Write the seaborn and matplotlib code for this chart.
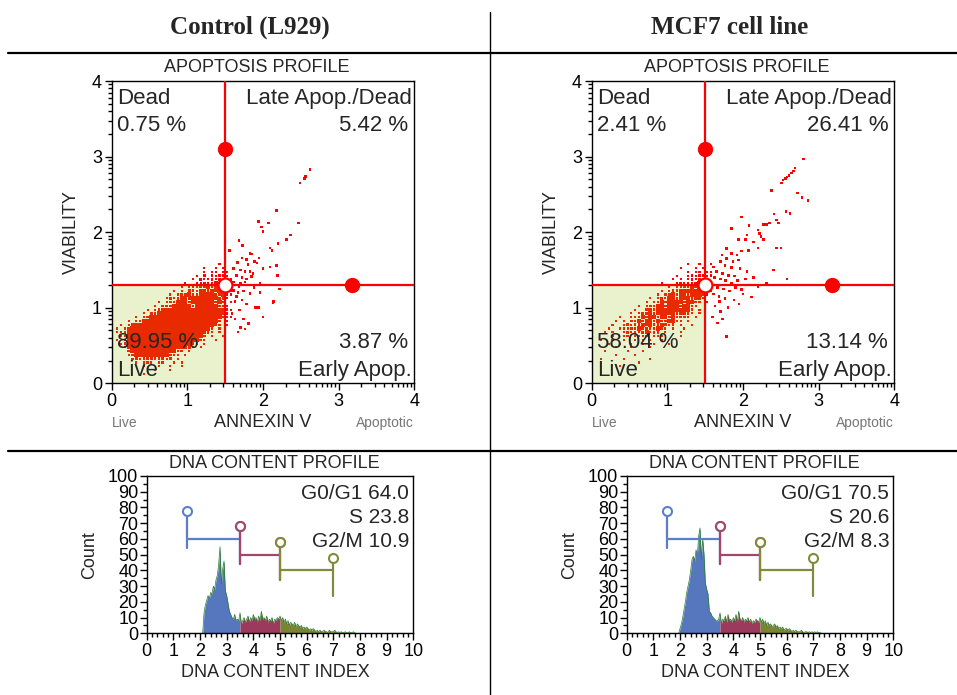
import numpy as np
import pandas as pd
import seaborn as sns
import matplotlib.pyplot as plt
from matplotlib.patches import Rectangle
from matplotlib.lines import Line2D
from matplotlib.ticker import FixedLocator, MultipleLocator

# ---------------- data ----------------
PANEL_TITLES = ['Control (L929)', 'MCF7 cell line']

QUAD_NAMES = ['Dead', 'Late Apop./Dead', 'Live', 'Early Apop.']
CTRL_QUAD_PCT = ['0.75 %', '5.42 %', '89.95 %', '3.87 %']
MCF7_QUAD_PCT = ['2.41 %', '26.41 %', '58.04 %', '13.14 %']

ANNEXIN_GATE = 1.5
VIABILITY_GATE = 1.3
HANDLE_X = [1.5, 3.17]
HANDLE_Y = [3.1, 1.3]

# dense part of the dot plot, one character per 0.05 x 0.05 cell,
# x from 0 to 1.6, y from 1.6 down ('#' solid, '+' some dots, '.' one dot)
CTRL_CLOUD = [
    "                            .   ",
    "                        .  . .  ",
    "                        . +. .+ ",
    "                      . + +.++. ",
    "                     . +..+.++.+",
    "                   .  +.+.+#++ +",
    "                  . .+.++#+#++ +",
    "                . . ++.##+#+#+++",
    "               . .++#++####++#+.",
    "              .+.+##+###+###++. ",
    "            . .++###+######+#+ .",
    "           . +++#####+######++. ",
    "         . .+#################+.",
    "        . ++##################+ ",
    "      . .+###################.+.",
    "    . .+####################+ . ",
    "  . .+#####################+. . ",
    " . .+#####################+ .   ",
    " ..+#####################+. .   ",
    "  .+####################+ .  .  ",
    " . +###################+.  .    ",
    "  .+#################++ .       ",
    "   .+###############+. .        ",
    "    +############++ .           ",
    "    .+#########++. .            ",
    "     .+.++++++.+ .              ",
    "      . .+. .+  . .             ",
    "        .   .  .  .             ",
    "           .   .                ",
    "        .                       ",
]

MCF7_CLOUD = [
    "                         .  .  .",
    "                       .   . +  ",
    "                         . .+ ++",
    "                      .  .+.++.+",
    "                     . . .+.+++ ",
    "                  .   .+.+++#++ ",
    "                    . +.++#+#++ ",
    "                  . .++#+##+#++.",
    "                 . ++#+##+###++ ",
    "               . .+.##+###+#+. ",
    "              . ++#+####+##++ .",
    "            . .++##+###+##+.   ",
    "           .  +#+##+####+#+ .   ",
    "          . .++#+#####+##+. .   ",
    "       .  .++#+##+##+#+++. .    ",
    "      . . ++#+##+#++##+. .      ",
    "     .  .+.++#+#++#+.+ .  .     ",
    "    .  .+.++#++.+#+. .  .       ",
    "   . .  .+.+.+#.++ .   .        ",
    "     .  .+ .+.+ .+.    .        ",
    "  .  .  .  + . .  .             ",
    "    .  .  .  .  .   .           ",
    "      .   .    .                ",
    "   .     .   .                  ",
    "      .    .                    ",
    "  .     .      .                ",
    "            .                   ",
    "       .                        ",
]

# single dots outside the dense part (ANNEXIN V, VIABILITY)
CTRL_SPARSE = [
    (2.62, 2.83), (2.56, 2.74), (2.55, 2.71), (2.49, 2.65), (2.18, 2.29),
    (1.94, 2.14), (1.98, 2.07), (2.07, 2.12), (2.47, 2.12), (2.36, 1.96),
    (2.31, 1.90), (2.00, 2.01), (1.68, 1.89), (1.73, 1.82), (1.56, 1.76),
    (2.20, 1.85), (2.09, 1.79), (2.12, 1.76), (1.83, 1.72), (1.85, 1.71),
    (1.72, 1.66), (1.78, 1.64), (1.89, 1.61), (1.92, 1.59), (2.00, 1.52),
    (2.09, 1.54), (2.18, 1.56), (2.19, 1.43), (1.61, 1.52), (1.70, 1.50),
    (1.76, 1.48), (1.83, 1.48), (1.87, 1.45), (1.65, 1.43), (1.72, 1.40),
    (1.78, 1.38), (1.85, 1.41), (1.61, 1.34), (1.70, 1.32), (1.76, 1.34),
    (1.96, 1.32), (2.05, 1.30), (2.22, 1.25), (1.61, 1.23), (1.67, 1.20),
    (1.74, 1.22), (1.83, 1.19), (1.96, 1.20), (2.14, 1.08), (1.63, 1.08),
    (1.72, 1.10), (1.59, 0.92), (1.63, 0.85), (1.74, 0.85), (1.81, 0.79),
    (1.70, 0.74), (1.67, 0.68), (1.76, 0.72), (1.66, 1.60), (1.80, 1.57),
    (1.95, 1.66), (1.68, 1.28), (1.88, 1.27), (1.65, 1.15), (1.78, 1.05),
    (1.69, 0.97), (1.90, 1.00), (2.00, 0.88), (2.13, 1.07), (1.94, 1.00),
]

MCF7_SPARSE = [
    (2.80, 2.97), (2.69, 2.85), (2.67, 2.81), (2.64, 2.78), (2.61, 2.75),
    (2.58, 2.73), (2.56, 2.71), (2.53, 2.69), (2.51, 2.65), (2.38, 2.55),
    (2.72, 2.52), (2.78, 2.46), (2.86, 2.42), (2.57, 2.27), (2.62, 2.25),
    (1.98, 2.20), (2.41, 2.24), (2.44, 2.16), (2.47, 2.12), (2.27, 2.10),
    (2.31, 2.10), (2.35, 2.12), (1.85, 2.05), (2.08, 2.09), (2.22, 1.98),
    (2.24, 1.94), (2.27, 1.90), (2.20, 2.03), (2.05, 1.96), (2.14, 1.87),
    (2.03, 1.90), (1.94, 1.90), (2.44, 1.79), (2.50, 1.79), (2.20, 1.79),
    (2.07, 1.76), (1.98, 1.75), (1.78, 1.78), (1.85, 1.72), (1.92, 1.70),
    (1.72, 1.70), (1.78, 1.65), (1.87, 1.61), (1.94, 1.63), (2.40, 1.50),
    (1.70, 1.61), (1.76, 1.56), (1.85, 1.53), (1.96, 1.52), (1.61, 1.54),
    (1.65, 1.48), (1.73, 1.45), (1.81, 1.43), (1.89, 1.42), (2.58, 1.38),
    (2.31, 1.33), (2.20, 1.28), (2.11, 1.14), (1.78, 0.62), (1.62, 1.40),
    (1.70, 1.38), (1.77, 1.36), (1.85, 1.33), (1.93, 1.36), (2.03, 1.38),
    (1.66, 1.27), (1.74, 1.25), (1.82, 1.22), (1.90, 1.27), (1.98, 1.24),
    (2.10, 1.30), (1.61, 1.18), (1.68, 1.15), (1.76, 1.12), (1.88, 1.10),
    (1.95, 1.05), (1.63, 1.02), (1.70, 0.95), (1.60, 0.88), (1.73, 0.85),
    (1.66, 0.80), (2.00, 1.18), (1.80, 1.00), (2.14, 1.40), (2.05, 1.48),
    (1.69, 1.08),
]

CYCLE_PHASES = ['G0/G1', 'S', 'G2/M']
CTRL_CYCLE = ['64.0', '23.8', '10.9']
MCF7_CYCLE = ['70.5', '20.6', '8.3']

# DNA content histogram, counts every 0.05 from 2.00 to 8.00
CTRL_COUNTS = [
    0, 0, 0, 13, 18, 21, 24, 22, 26, 25,
    30, 28, 34, 37, 44, 55, 31, 41, 46, 27,
    24, 19, 14, 12, 10, 9, 12, 8, 9, 8,
    13, 6, 8, 10, 7, 9, 11, 7, 10, 8,
    12, 9, 10, 7, 11, 8, 14, 9, 10, 8,
    11, 7, 9, 8, 10, 6, 9, 8, 10, 9,
    11, 8, 10, 7, 9, 6, 8, 5, 7, 6,
    5, 7, 4, 6, 5, 4, 5, 3, 4, 3,
    4, 3, 2, 3, 2, 3, 2, 1, 2, 1,
    2, 1, 1, 2, 1, 1, 0.5, 2, 1, 1,
    1, 2, 1, 0.5, 1, 0.5, 1, 0.5, 0.5, 1,
    0.5, 0.3, 1, 0.3, 0.5, 1, 0.3, 0, 0, 0,
    0,
]
MCF7_COUNTS = [
    3, 6, 10, 15, 20, 26, 30, 34, 40, 47,
    49, 46, 53, 50, 62, 67, 47, 60, 50, 32,
    28, 25, 14, 13, 11, 10, 9, 8, 8, 9,
    13, 6, 9, 8, 11, 7, 12, 8, 9, 7,
    10, 8, 12, 7, 14, 9, 8, 10, 7, 9,
    8, 10, 7, 9, 6, 8, 7, 9, 8, 7,
    10, 7, 9, 6, 8, 5, 7, 5, 6, 4,
    5, 6, 4, 5, 3, 4, 3, 4, 2, 3,
    3, 2, 3, 2, 1, 2, 1, 2, 1, 1,
    1, 2, 1, 0.5, 1, 1, 0.5, 1, 0.5, 1,
    0.5, 1, 0.5, 1, 0.3, 0.5, 0, 0, 0, 0,
    0, 0, 0, 0, 0, 0, 0, 0, 0, 0,
    0,
]
HIST_START = 2.0
HIST_STEP = 0.05

# cell-cycle gate markers (DNA index, count)
GATE_START = [1.5, 3.5, 5.0]
GATE_END = [3.5, 5.0, 7.0]
GATE_LEVEL = [60, 50, 40]
GATE_LEFT_LO = [54, 44, 34]
GATE_LEFT_HI = [78, 68, 58]
GATE_RIGHT_LO = [44, 34, 24]
GATE_RIGHT_HI = [68, 58, 48]

# ---------------- styling ----------------
sns.set_theme(style='ticks')
plt.rcParams['font.family'] = ['Liberation Sans', 'DejaVu Sans']

RED = '#ff0000'
LIVE_RED = '#e92a00'
LIVE_FILL = '#e9f2cd'
PHASE_FILLS = ['#5676bd', '#9b3a5c', '#7a8336']
GATE_COLORS = ['#5b80c9', '#a3466c', '#808b3c']
OUTLINE = '#2a7f2e'
DOT_SIZES = {'#': 8.5, '+': 3.4, '.': 2.2}


def cloud_frame(rows):
    recs = []
    for j, row in enumerate(rows):
        for i, ch in enumerate(row):
            if ch != ' ':
                recs.append((0.05 * (i + 0.5), 1.6 - 0.05 * (j + 0.5), ch))
    return pd.DataFrame(recs, columns=['x', 'y', 'kind'])


def style_box(ax):
    for sp in ax.spines.values():
        sp.set_visible(True)
        sp.set_color('black')
        sp.set_linewidth(1.0)
    ax.tick_params(which='both', direction='out', color='black', width=1,
                   labelcolor='black', pad=2)
    ax.tick_params(which='major', length=5)
    ax.tick_params(which='minor', length=3)


def draw_apoptosis(ax, cloud_rows, sparse, pct):
    ax.set_xlim(0, 4)
    ax.set_ylim(0, 4)
    ax.add_patch(Rectangle((0, 0), ANNEXIN_GATE, VIABILITY_GATE,
                           facecolor=LIVE_FILL, lw=0, zorder=0))

    df = cloud_frame(cloud_rows)
    sp = pd.DataFrame(sparse, columns=['x', 'y'])
    sp['kind'] = '+'
    df = pd.concat([df, sp], ignore_index=True)
    df['zone'] = np.where((df.x < ANNEXIN_GATE) & (df.y < VIABILITY_GATE), 'live', 'other')
    for kind, size in DOT_SIZES.items():
        part = df[df.kind == kind]
        sns.scatterplot(data=part, x='x', y='y', hue='zone',
                        palette={'live': LIVE_RED, 'other': RED},
                        marker='s', s=size, linewidth=0, legend=False,
                        ax=ax, zorder=2)

    ax.axvline(ANNEXIN_GATE, color=RED, lw=1.6, zorder=3)
    ax.axhline(VIABILITY_GATE, color=RED, lw=1.6, zorder=3)
    ax.plot(HANDLE_X[0], HANDLE_Y[0], 'o', color=RED, ms=10, zorder=4)
    ax.plot(HANDLE_X[1], HANDLE_Y[1], 'o', color=RED, ms=10, zorder=4)
    ax.plot(ANNEXIN_GATE, VIABILITY_GATE, 'o', mfc='white', mec=RED,
            mew=1.6, ms=10, zorder=4)

    fs = 16
    ax.text(0.074, 3.70, QUAD_NAMES[0], fontsize=fs, va='baseline')
    ax.text(0.074, 3.34, pct[0], fontsize=fs, va='baseline')
    ax.text(3.965, 3.70, QUAD_NAMES[1], fontsize=fs, va='baseline', ha='right')
    ax.text(3.92, 3.34, pct[1], fontsize=fs, va='baseline', ha='right')
    ax.text(0.074, 0.47, pct[2], fontsize=fs, va='baseline', zorder=5)
    ax.text(0.074, 0.10, QUAD_NAMES[2], fontsize=fs, va='baseline', zorder=5)
    ax.text(3.92, 0.47, pct[3], fontsize=fs, va='baseline', ha='right')
    ax.text(3.965, 0.10, QUAD_NAMES[3], fontsize=fs, va='baseline', ha='right')

    ax.set_xticks(range(5))
    ax.set_yticks(range(5))
    minor = [n + np.log10(k) for n in range(4) for k in range(2, 10)]
    ax.xaxis.set_minor_locator(FixedLocator(minor))
    ax.yaxis.set_minor_locator(FixedLocator(minor))
    style_box(ax)
    ax.tick_params(labelsize=13)

    ax.set_xlabel('ANNEXIN V', fontsize=13, va='center')
    ax.xaxis.set_label_coords(0.5, -0.131)
    ax.set_ylabel('VIABILITY', fontsize=13, va='center')
    ax.yaxis.set_label_coords(-0.132, 0.5)
    ax.text(0.0, -0.131, 'Live', transform=ax.transAxes, fontsize=10,
            color='#777777', ha='left', va='center')
    ax.text(1.0, -0.131, 'Apoptotic', transform=ax.transAxes, fontsize=10,
            color='#777777', ha='right', va='center')
    ax.text(0.479, 1.046, 'APOPTOSIS PROFILE', transform=ax.transAxes,
            fontsize=13, ha='center', va='center')


def draw_dna(ax, counts, cycle):
    x = np.round(np.arange(0, 10.0001, HIST_STEP), 2)
    y = np.zeros_like(x)
    i0 = int(round(HIST_START / HIST_STEP))
    y[i0:i0 + len(counts)] = counts
    df = pd.DataFrame({'x': x, 'y': y})

    bounds = [0.0] + GATE_END[:2] + [10.0]
    for k, col in enumerate(PHASE_FILLS):
        m = (x >= bounds[k] - 1e-9) & (x <= bounds[k + 1] + 1e-9)
        ax.fill_between(x[m], 0, y[m], color=col, lw=0, zorder=1)
    sns.lineplot(data=df, x='x', y='y', color=OUTLINE, lw=0.5, ax=ax, zorder=2)

    for k, col in enumerate(GATE_COLORS):
        s, e, lev = GATE_START[k], GATE_END[k], GATE_LEVEL[k]
        ax.plot([s, e], [lev, lev], color=col, lw=1.6, zorder=3)
        ax.plot([s, s], [GATE_LEFT_LO[k], GATE_LEFT_HI[k] - 1.5], color=col, lw=1.6, zorder=3)
        ax.plot([e, e], [GATE_RIGHT_LO[k], GATE_RIGHT_HI[k] - 1.5], color=col, lw=1.6, zorder=3)
        ax.plot(s, GATE_LEFT_HI[k], 'o', mfc='white', mec=col, mew=1.5, ms=6.5, zorder=4)
        ax.plot(e, GATE_RIGHT_HI[k], 'o', mfc='white', mec=col, mew=1.5, ms=6.5, zorder=4)

    base = [85.4, 70.3, 54.7]
    for k, ph in enumerate(CYCLE_PHASES):
        ax.text(9.85, base[k], f'{ph} {cycle[k]}', fontsize=15,
                ha='right', va='baseline')

    ax.set_xlim(0, 10)
    ax.set_ylim(0, 100)
    ax.set_xticks(range(11))
    ax.set_yticks(range(0, 101, 10))
    ax.xaxis.set_minor_locator(MultipleLocator(0.2))
    ax.yaxis.set_minor_locator(MultipleLocator(5))
    style_box(ax)
    ax.tick_params(labelsize=13)
    ax.tick_params(axis='y', pad=1)

    ax.set_xlabel('DNA CONTENT INDEX', fontsize=13, va='center')
    ax.xaxis.set_label_coords(0.481, -0.252)
    ax.set_ylabel('Count', fontsize=13, va='center')
    ax.yaxis.set_label_coords(-0.213, 0.5)
    ax.text(0.48, 1.081, 'DNA CONTENT PROFILE', transform=ax.transAxes,
            fontsize=13, ha='center', va='center')


W, H = 957, 695
fig = plt.figure(figsize=(W / 100, H / 100), dpi=100)


def px_axes(left, top, right, bottom):
    return fig.add_axes([left / W, 1 - bottom / H, (right - left) / W, (bottom - top) / H])


ax_a1 = px_axes(111.7, 81, 414.3, 383.3)
ax_a2 = px_axes(591.7, 81, 894.3, 383.3)
ax_d1 = px_axes(146.7, 476, 413.3, 633.3)
ax_d2 = px_axes(626.7, 476, 893.3, 633.3)

draw_apoptosis(ax_a1, CTRL_CLOUD, CTRL_SPARSE, CTRL_QUAD_PCT)
draw_apoptosis(ax_a2, MCF7_CLOUD, MCF7_SPARSE, MCF7_QUAD_PCT)
draw_dna(ax_d1, CTRL_COUNTS, CTRL_CYCLE)
draw_dna(ax_d2, MCF7_COUNTS, MCF7_CYCLE)

# panel headers and separating rules
for cx, title in zip([250, 730], PANEL_TITLES):
    fig.text(cx / W, 1 - 27 / H, title, family=['Liberation Serif', 'DejaVu Serif'],
             weight='bold', fontsize=18, ha='center', va='center')
fig.add_artist(Line2D([8 / W, 1], [1 - 53 / H] * 2, color='black', lw=1.6))
fig.add_artist(Line2D([8 / W, 1], [1 - 451 / H] * 2, color='black', lw=1.6))
fig.add_artist(Line2D([490 / W] * 2, [1 - 12 / H, 0], color='black', lw=1.0))

fig.savefig('out.png', dpi=100)
